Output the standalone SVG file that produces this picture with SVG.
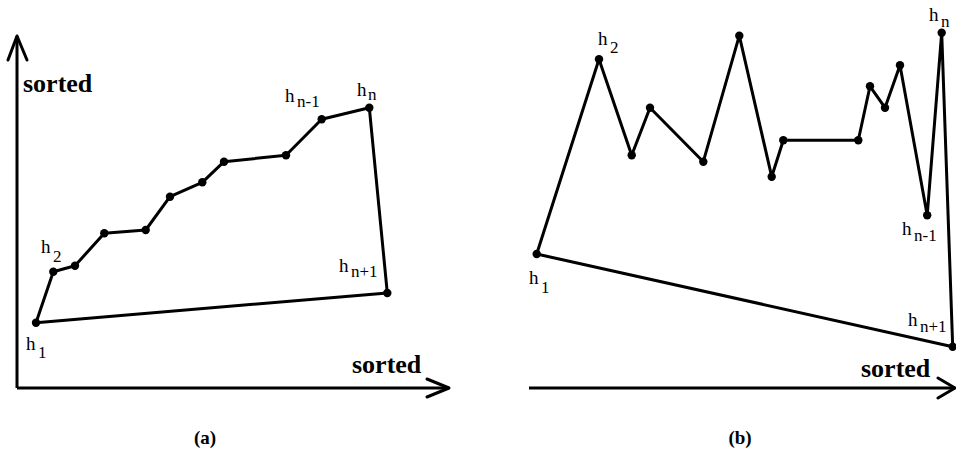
<svg xmlns="http://www.w3.org/2000/svg" width="956" height="452" viewBox="0 0 956 452">
<style>
.ln{fill:none;stroke:#000;stroke-width:3;stroke-linejoin:round;stroke-linecap:round}
.ax{fill:none;stroke:#000;stroke-width:3;stroke-linecap:butt}
.dot{fill:#000}
.lab{font-family:"Liberation Serif","Times New Roman",serif;font-size:19px;fill:#000}
.sub{font-size:17px}
.bold{font-family:"Liberation Serif","Times New Roman",serif;font-weight:bold;font-size:26px;fill:#000}
.cap{font-family:"Liberation Serif","Times New Roman",serif;font-weight:bold;font-size:19px;fill:#000;text-anchor:middle}
</style>
<g id="axes-a">
<polyline class="ax" points="17,388 17,36"/>
<polyline class="ln" points="8,60 17,36 27,60"/>
<polyline class="ax" points="17,388 449,388"/>
<polyline class="ln" points="427,379 449,388 427,397"/>
<text class="bold" x="23" y="92">sorted</text>
<text class="bold" x="352" y="373">sorted</text>
<text class="cap" x="205" y="444">(a)</text>
</g>
<g id="connectors-a">
<polyline class="ln" points="36,322.7 53.3,271.7 75,265.7 104.3,233.3 145.7,230 170,196.7 202.3,182.3 224,161.7 286,155.3 321.7,119.3 369.3,107.7 387.3,293 36,322.7"/>
</g>
<g id="nodes-a">
<circle class="dot" cx="36" cy="322.7" r="4.2"/>
<circle class="dot" cx="53.3" cy="271.7" r="4.2"/>
<circle class="dot" cx="75" cy="265.7" r="4.2"/>
<circle class="dot" cx="104.3" cy="233.3" r="4.2"/>
<circle class="dot" cx="145.7" cy="230" r="4.2"/>
<circle class="dot" cx="170" cy="196.7" r="4.2"/>
<circle class="dot" cx="202.3" cy="182.3" r="4.2"/>
<circle class="dot" cx="224" cy="161.7" r="4.2"/>
<circle class="dot" cx="286" cy="155.3" r="4.2"/>
<circle class="dot" cx="321.7" cy="119.3" r="4.2"/>
<circle class="dot" cx="369.3" cy="107.7" r="4.2"/>
<circle class="dot" cx="387.3" cy="293" r="4.2"/>
</g>
<g id="labels-a">
<text class="lab" x="26" y="350">h<tspan class="sub" x="38" y="358">1</tspan></text>
<text class="lab" x="41" y="253">h<tspan class="sub" x="53" y="262">2</tspan></text>
<text class="lab" x="285" y="102">h<tspan class="sub" x="297" y="107">n-1</tspan></text>
<text class="lab" x="357" y="96">h<tspan class="sub" x="368" y="100">n</tspan></text>
<text class="lab" x="339" y="272">h<tspan class="sub" x="351" y="277">n+1</tspan></text>
</g>
<g id="axes-b">
<polyline class="ax" points="529,388 955,388"/>
<polyline class="ln" points="938,378 955,388 938,398"/>
<text class="bold" x="861" y="377">sorted</text>
<text class="cap" x="740" y="444">(b)</text>
</g>
<g id="connectors-b">
<polyline class="ln" points="536.7,254 599,59.3 631.7,155.3 650,107.7 703.3,161.7 739.3,35.7 771.7,176.7 783.3,140.3 858.3,140.3 870,86.3 885,107.7 900,65.3 927.2,215.3 941.7,32.7 952.7,346.7 536.7,254"/>
</g>
<g id="nodes-b">
<circle class="dot" cx="536.7" cy="254" r="4.2"/>
<circle class="dot" cx="599" cy="59.3" r="4.2"/>
<circle class="dot" cx="631.7" cy="155.3" r="4.2"/>
<circle class="dot" cx="650" cy="107.7" r="4.2"/>
<circle class="dot" cx="703.3" cy="161.7" r="4.2"/>
<circle class="dot" cx="739.3" cy="35.7" r="4.2"/>
<circle class="dot" cx="771.7" cy="176.7" r="4.2"/>
<circle class="dot" cx="783.3" cy="140.3" r="4.2"/>
<circle class="dot" cx="858.3" cy="140.3" r="4.2"/>
<circle class="dot" cx="870" cy="86.3" r="4.2"/>
<circle class="dot" cx="885" cy="107.7" r="4.2"/>
<circle class="dot" cx="900" cy="65.3" r="4.2"/>
<circle class="dot" cx="927.2" cy="215.3" r="4.2"/>
<circle class="dot" cx="941.7" cy="32.7" r="4.2"/>
<circle class="dot" cx="952.7" cy="346.7" r="4.2"/>
</g>
<g id="labels-b">
<text class="lab" x="529" y="284">h<tspan class="sub" x="541" y="293">1</tspan></text>
<text class="lab" x="598" y="45">h<tspan class="sub" x="610" y="53">2</tspan></text>
<text class="lab" x="929" y="21">h<tspan class="sub" x="941" y="27">n</tspan></text>
<text class="lab" x="902" y="235">h<tspan class="sub" x="914" y="241">n-1</tspan></text>
<text class="lab" x="908" y="326">h<tspan class="sub" x="920" y="332">n+1</tspan></text>
</g>
</svg>
